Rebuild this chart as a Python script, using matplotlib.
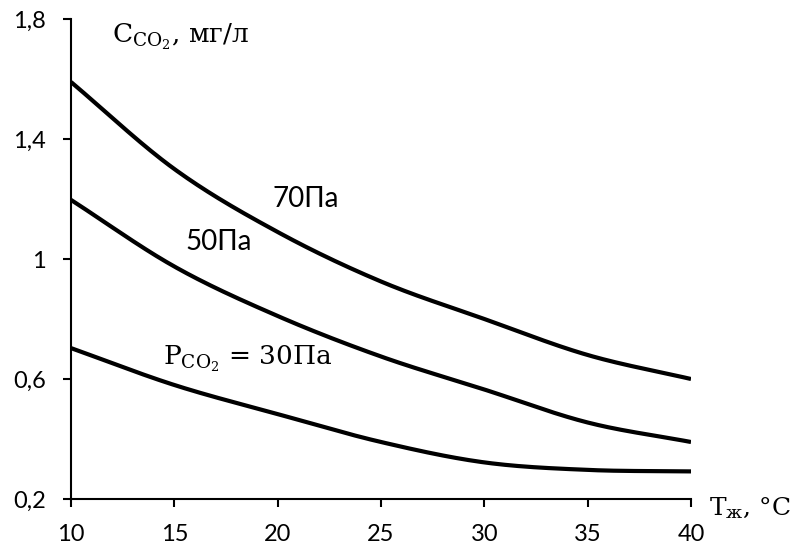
import matplotlib.pyplot as plt
import numpy as np

plt.rcParams['font.family'] = ['Lato', 'DejaVu Sans']
plt.rcParams['mathtext.fontset'] = 'dejavuserif'

# liquid temperature, °C
temp = [10, 15, 20, 25, 30, 35, 40]
# dissolved CO2 concentration, mg/l, for each CO2 partial pressure
c_70 = [1.59, 1.30, 1.09, 0.925, 0.80, 0.68, 0.60]
c_50 = [1.197, 0.975, 0.81, 0.675, 0.565, 0.455, 0.39]
c_30 = [0.703, 0.58, 0.483, 0.39, 0.322, 0.297, 0.292]

yticks = [0.2, 0.6, 1.0, 1.4, 1.8]
ytick_labels = ['0,2', '0,6', '1', '1,4', '1,8']
xticks = [10, 15, 20, 25, 30, 35, 40]


def smooth(x, y, n=40):
    # Catmull-Rom spline through the points, like a spreadsheet's smoothed line
    x = np.asarray(x, float)
    y = np.asarray(y, float)
    px = np.concatenate([[2 * x[0] - x[1]], x, [2 * x[-1] - x[-2]]])
    py = np.concatenate([[2 * y[0] - y[1]], y, [2 * y[-1] - y[-2]]])
    t = np.linspace(0, 1, n, endpoint=False)[:, None]
    out_x, out_y = [], []
    for i in range(1, len(px) - 2):
        p = np.array([[px[j], py[j]] for j in range(i - 1, i + 3)])
        seg = 0.5 * ((2 * p[1]) + (-p[0] + p[2]) * t
                     + (2 * p[0] - 5 * p[1] + 4 * p[2] - p[3]) * t**2
                     + (-p[0] + 3 * p[1] - 3 * p[2] + p[3]) * t**3)
        out_x.extend(seg[:, 0])
        out_y.extend(seg[:, 1])
    out_x.append(x[-1])
    out_y.append(y[-1])
    return out_x, out_y


fig = plt.figure(figsize=(7.92, 5.47), dpi=100)
ax = fig.add_axes([71 / 792, 48 / 547, 620 / 792, 480 / 547])

for c in (c_70, c_50, c_30):
    xs, ys = smooth(temp, c)
    ax.plot(xs, ys, color='black', lw=3, solid_capstyle='butt')

ax.set_xlim(10, 40)
ax.set_ylim(0.2, 1.8)
ax.set_xticks(xticks)
ax.set_yticks(yticks)
ax.set_yticklabels(ytick_labels)
ax.tick_params(direction='out', length=6, width=1.5, labelsize=17, pad=12)
for s in ('top', 'right'):
    ax.spines[s].set_visible(False)
for s in ('left', 'bottom'):
    ax.spines[s].set_linewidth(1.5)

serif = ['DejaVu Serif']
fig.text(112 / 792, (547 - 43) / 547, r'$\mathrm{C_{CO_2}}$, мг/л',
         fontsize=19, family=serif, va='baseline', ha='left')
fig.text(709 / 792, (547 - 515) / 547, r'$\mathrm{T_{ж}}$, °C',
         fontsize=18, family=serif, va='baseline', ha='left')
fig.text(163 / 792, (547 - 365) / 547, r'$\mathrm{P_{CO_2}}$ = 30Па',
         fontsize=19, family=serif, va='baseline', ha='left')
fig.text(185 / 792, (547 - 250) / 547, '50Па', fontsize=20,
         va='baseline', ha='left')
fig.text(272 / 792, (547 - 207) / 547, '70Па', fontsize=20,
         va='baseline', ha='left')

fig.savefig('out.png', dpi=100)
